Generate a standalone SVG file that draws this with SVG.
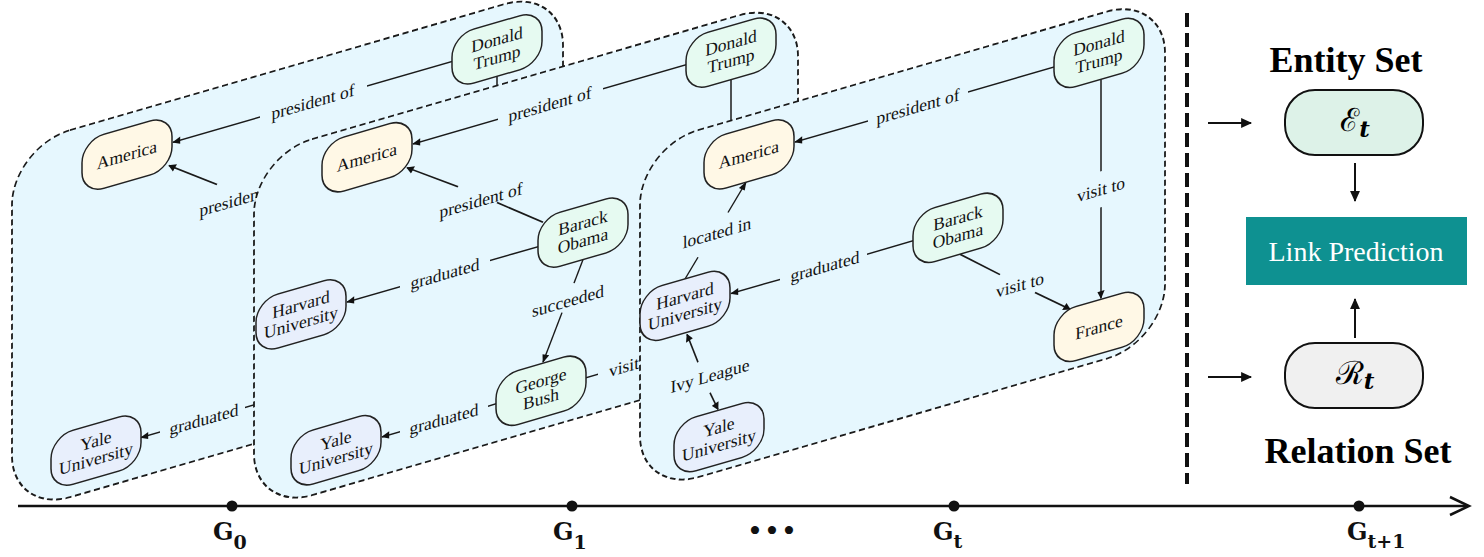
<svg xmlns="http://www.w3.org/2000/svg" width="1484" height="557" viewBox="0 0 1484 557">
<defs>
<marker id="ah" viewBox="0 0 10 10" refX="9" refY="5" markerWidth="9" markerHeight="8" orient="auto" markerUnits="userSpaceOnUse"><path d="M0,0.5 L10,5 L0,9.5 Z" fill="#111"/></marker>
<marker id="ahb" viewBox="0 0 10 10" refX="9" refY="5" markerWidth="12" markerHeight="11" orient="auto" markerUnits="userSpaceOnUse"><path d="M0,0.5 L10,5 L0,9.5 Z" fill="#111"/></marker>
<style>
.panel{fill:#E6F7FE;stroke:#1a1a1a;stroke-width:1.8;stroke-dasharray:6 3.5}
.n rect{stroke:#222;stroke-width:1.5}
.loc{fill:#FFF8E6}
.per{fill:#E6FAF1}
.uni{fill:#E8EFFC}
.nt{font-family:"Liberation Serif","Times New Roman",serif;font-size:17.5px;fill:#111;text-anchor:middle}
.lbl{font-family:"Liberation Serif","Times New Roman",serif;font-size:17.5px;fill:#111;text-anchor:middle}
.e line{stroke:#1a1a1a;stroke-width:1.5}
.a{marker-end:url(#ah)}
.g{font-family:"DejaVu Serif","Liberation Serif",serif;font-weight:bold;font-size:24px;fill:#111}
.title{font-family:"Liberation Serif","Times New Roman",serif;font-weight:bold;font-size:36px;fill:#000;text-anchor:middle}
.math{font-family:"DejaVu Serif","Liberation Serif",serif;font-size:32px;fill:#000;text-anchor:middle}
.lp{font-family:"Liberation Serif","Times New Roman",serif;font-size:28px;fill:#fff;text-anchor:middle}
.dots{font-family:"Liberation Serif","Times New Roman",serif;font-size:34px;fill:#111;text-anchor:middle}
.rc line{stroke:#111;stroke-width:2;marker-end:url(#ahb)}
</style>
</defs>

<!-- Panel G0 -->
<g id="panel-g0" transform="matrix(1,-0.29,0,1,12,147)">
  <rect class="panel" x="0" y="0" width="551" height="367" rx="58"/>
  <g id="p0-connectors" class="e">
    <line x1="440" y1="42" x2="355" y2="42"/>
    <line class="a" x1="248" y1="42" x2="161" y2="42"/>
    <text class="lbl" x="301" y="48">president of</text>
    <line class="a" x1="205" y1="97" x2="157" y2="64"/>
    <text class="lbl" x="229" y="124">president of</text>
    <line class="a" x1="148" y1="328" x2="129" y2="328"/>
    <text class="lbl" x="192" y="334">graduated</text>
    <line x1="233" y1="328" x2="262" y2="328"/>
    <line x1="485" y1="70" x2="485" y2="150"/>
  </g>
  <g id="p0-america" class="n"><rect class="loc" x="70" y="14" width="90" height="54" rx="22"/><text class="nt" x="115" y="47">America</text></g>
  <g id="p0-trump" class="n"><rect class="per" x="440" y="16" width="90" height="54" rx="22"/><text class="nt" x="485" y="39">Donald</text><text class="nt" x="485" y="57">Trump</text></g>
  <g id="p0-yale" class="n"><rect class="uni" x="39" y="301" width="90" height="54" rx="22"/><text class="nt" x="84" y="324">Yale</text><text class="nt" x="84" y="342">University</text></g>
</g>

<!-- Panel G1 -->
<g id="panel-g1" transform="matrix(1,-0.29,0,1,254,156)">
  <rect class="panel" x="0" y="0" width="544" height="356" rx="58"/>
  <g id="p1-connectors" class="e">
    <line x1="432" y1="34" x2="349" y2="34"/>
    <line class="a" x1="244" y1="34" x2="159" y2="34"/>
    <text class="lbl" x="296" y="40">president of</text>
    <line x1="289" y1="150" x2="243" y2="117"/>
    <line class="a" x1="204" y1="90" x2="153" y2="56"/>
    <text class="lbl" x="227" y="116">president of</text>
    <line x1="284" y1="173" x2="236" y2="173"/>
    <line class="a" x1="146" y1="173" x2="93" y2="173"/>
    <text class="lbl" x="191" y="179">graduated</text>
    <line x1="329" y1="199" x2="320" y2="220"/>
    <line class="a" x1="308" y1="246" x2="289" y2="290"/>
    <text class="lbl" x="314" y="242">succeeded</text>
    <line x1="242" y1="318" x2="234" y2="318"/>
    <line class="a" x1="146" y1="318" x2="128" y2="318"/>
    <text class="lbl" x="190" y="324">graduated</text>
    <line x1="332" y1="318" x2="344" y2="318"/>
    <text class="lbl" x="379" y="324">visit to</text>
    <line x1="403" y1="318" x2="450" y2="318"/>
    <line x1="477" y1="62" x2="477" y2="200"/>
  </g>
  <g id="p1-america" class="n"><rect class="loc" x="68" y="7" width="90" height="54" rx="22"/><text class="nt" x="113" y="40">America</text></g>
  <g id="p1-trump" class="n"><rect class="per" x="432" y="8" width="90" height="54" rx="22"/><text class="nt" x="477" y="31">Donald</text><text class="nt" x="477" y="49">Trump</text></g>
  <g id="p1-obama" class="n"><rect class="per" x="284" y="145" width="90" height="54" rx="22"/><text class="nt" x="329" y="168">Barack</text><text class="nt" x="329" y="186">Obama</text></g>
  <g id="p1-harvard" class="n"><rect class="uni" x="2" y="145" width="90" height="54" rx="22"/><text class="nt" x="47" y="168">Harvard</text><text class="nt" x="47" y="186">University</text></g>
  <g id="p1-bush" class="n"><rect class="per" x="242" y="291" width="90" height="54" rx="22"/><text class="nt" x="287" y="314">George</text><text class="nt" x="287" y="332">Bush</text></g>
  <g id="p1-yale" class="n"><rect class="uni" x="37" y="291" width="90" height="54" rx="22"/><text class="nt" x="82" y="314">Yale</text><text class="nt" x="82" y="332">University</text></g>
</g>

<!-- Panel Gt -->
<g id="panel-gt" transform="matrix(1,-0.29,0,1,640,147)">
  <rect class="panel" x="0" y="0" width="525" height="347" rx="58"/>
  <g id="pt-connectors" class="e">
    <line x1="414" y1="40" x2="328" y2="40"/>
    <line class="a" x1="228" y1="40" x2="155" y2="40"/>
    <text class="lbl" x="278" y="46">president of</text>
    <line x1="461" y1="66" x2="461" y2="158"/>
    <line class="a" x1="461" y1="194" x2="461" y2="285"/>
    <text class="lbl" x="461" y="182">visit to</text>
    <line x1="320" y1="200" x2="360" y2="232"/>
    <line class="a" x1="395" y1="260" x2="430" y2="287"/>
    <text class="lbl" x="380" y="254">visit to</text>
    <line x1="273" y1="173" x2="227" y2="173"/>
    <line class="a" x1="140" y1="173" x2="91" y2="173"/>
    <text class="lbl" x="185" y="179">graduated</text>
    <line x1="45" y1="145" x2="58" y2="127"/>
    <line class="a" x1="88" y1="91" x2="106" y2="66"/>
    <text class="lbl" x="77" y="114">located in</text>
    <line class="a" x1="58" y1="232" x2="47" y2="201"/>
    <line class="a" x1="70" y1="266" x2="78" y2="285"/>
    <text class="lbl" x="70" y="255">Ivy League</text>
  </g>
  <g id="pt-america" class="n"><rect class="loc" x="64" y="12" width="90" height="54" rx="22"/><text class="nt" x="109" y="45">America</text></g>
  <g id="pt-trump" class="n"><rect class="per" x="414" y="12" width="90" height="54" rx="22"/><text class="nt" x="459" y="35">Donald</text><text class="nt" x="459" y="53">Trump</text></g>
  <g id="pt-obama" class="n"><rect class="per" x="273" y="146" width="90" height="54" rx="22"/><text class="nt" x="318" y="169">Barack</text><text class="nt" x="318" y="187">Obama</text></g>
  <g id="pt-harvard" class="n"><rect class="uni" x="0" y="145" width="90" height="54" rx="22"/><text class="nt" x="45" y="168">Harvard</text><text class="nt" x="45" y="186">University</text></g>
  <g id="pt-yale" class="n"><rect class="uni" x="34" y="286" width="90" height="54" rx="22"/><text class="nt" x="79" y="309">Yale</text><text class="nt" x="79" y="327">University</text></g>
  <g id="pt-france" class="n"><rect class="loc" x="414" y="286" width="90" height="54" rx="22"/><text class="nt" x="459" y="319">France</text></g>
</g>

<!-- Divider -->
<line x1="1187" y1="13" x2="1187" y2="484" stroke="#111" stroke-width="4" stroke-dasharray="14 6"/>

<!-- Right side -->
<text class="title" x="1346" y="72">Entity Set</text>
<text class="title" x="1358" y="463">Relation Set</text>
<g id="right-connectors" class="rc">
  <line x1="1208" y1="123" x2="1251" y2="123"/>
  <line x1="1355" y1="163" x2="1355" y2="201"/>
  <line x1="1355" y1="338" x2="1355" y2="299"/>
  <line x1="1208" y1="377" x2="1251" y2="377"/>
</g>
<g id="entity-set">
  <rect x="1285" y="90" width="138" height="65" rx="30" fill="#DDF2E8" stroke="#111" stroke-width="2"/>
  <text class="math" x="1355" y="131">ℰ<tspan font-size="23" font-weight="bold" font-style="italic" dy="6">t</tspan></text>
</g>
<g id="link-prediction">
  <rect x="1246" y="217" width="221" height="68" fill="#0E9191"/>
  <text class="lp" x="1356" y="261">Link Prediction</text>
</g>
<g id="relation-set">
  <rect x="1285" y="343" width="138" height="65" rx="30" fill="#F0F0F0" stroke="#111" stroke-width="2"/>
  <text class="math" x="1355" y="384">ℛ<tspan font-size="23" font-weight="bold" font-style="italic" dy="5">t</tspan></text>
</g>

<!-- Timeline -->
<g id="timeline">
  <line x1="18" y1="506" x2="1467" y2="506" stroke="#111" stroke-width="2.5"/>
  <polyline points="1450,497 1469,506 1450,515" fill="none" stroke="#111" stroke-width="2.5"/>
  <circle cx="232" cy="506" r="5.5" fill="#111"/>
  <circle cx="572" cy="506" r="5.5" fill="#111"/>
  <circle cx="954" cy="506" r="5.5" fill="#111"/>
  <circle cx="1359" cy="506" r="5.5" fill="#111"/>
  <text class="g" x="213" y="540">G<tspan font-size="19" dy="9">0</tspan></text>
  <text class="g" x="553" y="540">G<tspan font-size="19" dy="9">1</tspan></text>
  <text class="g" x="933" y="540">G<tspan font-size="19" dy="8">t</tspan></text>
  <text class="g" x="1347" y="540">G<tspan font-size="19" dy="8">t+1</tspan></text>
  <text class="dots" x="755 772 789" y="542">•••</text>
</g>
</svg>
